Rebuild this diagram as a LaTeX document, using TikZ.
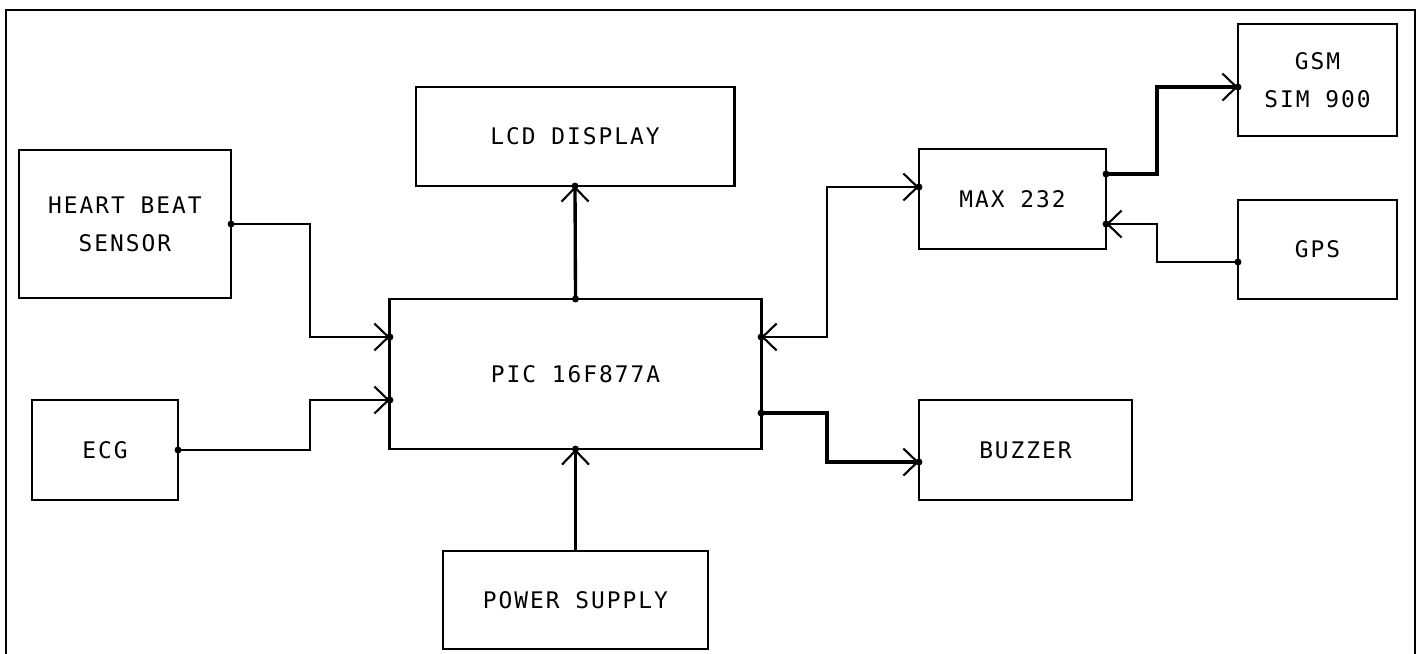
\documentclass[tikz,border=0pt]{standalone}
\usepackage{fontspec}
\newfontfamily\blockfont[LetterSpace=8.7]{DejaVu Sans Mono}
\usetikzlibrary{arrows.meta}

\begin{document}
\begin{tikzpicture}[x=0.01cm,y=-0.01cm,
  block/.style={draw,line width=0.8pt,inner sep=0pt,outer sep=0pt,align=center,
    font={\blockfont\fontsize{6.5}{10.8}\selectfont}},
  wire/.style={line width=0.55pt},
  bus/.style={line width=0.95pt},
  >={Straight Barb[length=0.14cm,width=0.27cm,line width=0.6pt]}]

\useasboundingbox (0,0) rectangle (1418,653);
\draw[line width=0.5pt] (6,700) -- (6,10) -- (1415,10) -- (1415,700);

\node[block,minimum width=2.12cm,minimum height=1.48cm] (hb) at (125,224) {HEART BEAT\\SENSOR};
\node[block,minimum width=1.46cm,minimum height=1.00cm] (ecg) at (105,450) {ECG};
\node[block,minimum width=3.71cm,minimum height=1.50cm] (pic) at (575.5,374) {PIC 16F877A};
\node[block,minimum width=3.18cm,minimum height=0.99cm] (lcd) at (575,136.5) {LCD DISPLAY};
\node[block,minimum width=2.65cm,minimum height=0.98cm] (pow) at (575.5,600) {POWER SUPPLY};
\node[block,minimum width=1.87cm,minimum height=1.00cm] (max) at (1012.5,199) {MAX 232};
\node[block,minimum width=1.59cm,minimum height=1.12cm] (gsm) at (1317.5,80) {GSM\\SIM 900};
\node[block,minimum width=1.59cm,minimum height=0.99cm] (gps) at (1317.5,249.5) {GPS};
\node[block,minimum width=2.13cm,minimum height=1.00cm] (buz) at (1025.5,450) {BUZZER};

\coordinate (picA) at ([yshift=0.37cm]pic.west);
\coordinate (picB) at ([yshift=-0.26cm]pic.west);
\coordinate (picC) at ([yshift=0.37cm]pic.east);
\coordinate (picD) at ([yshift=-0.39cm]pic.east);
\coordinate (maxA) at ([yshift=0.12cm]max.west);
\coordinate (maxB) at ([yshift=0.25cm]max.east);
\coordinate (maxC) at ([yshift=-0.25cm]max.east);
\coordinate (gsmA) at ([yshift=-0.07cm]gsm.west);
\coordinate (gpsA) at ([yshift=-0.125cm]gps.west);
\coordinate (buzA) at ([yshift=-0.12cm]buz.west);

\draw[wire,->] (hb.east) -- ++(79,0) |- (picA);
\draw[wire,->] (ecg.east) -- ++(132,0) |- (picB);
\draw[bus,->] (pic.north) -- (lcd.south);
\draw[bus,->] (pow.north) -- (pic.south);
\draw[wire,<->] (picC) -- ++(66,0) |- (maxA);
\draw[bus,->] (picD) -- ++(66,0) |- (buzA);
\draw[bus,->] (maxB) -- ++(51,0) |- (gsmA);
\draw[wire,->] (gpsA) -- ++(-81,0) |- (maxC);

\foreach \p in {hb.east,ecg.east,pic.north,picD,maxB,gpsA,picA,picB,picC,lcd.south,pic.south,maxA,maxC,gsmA,buzA}
{
\fill (\p) circle (0.035cm);
}
\end{tikzpicture}
\end{document}
